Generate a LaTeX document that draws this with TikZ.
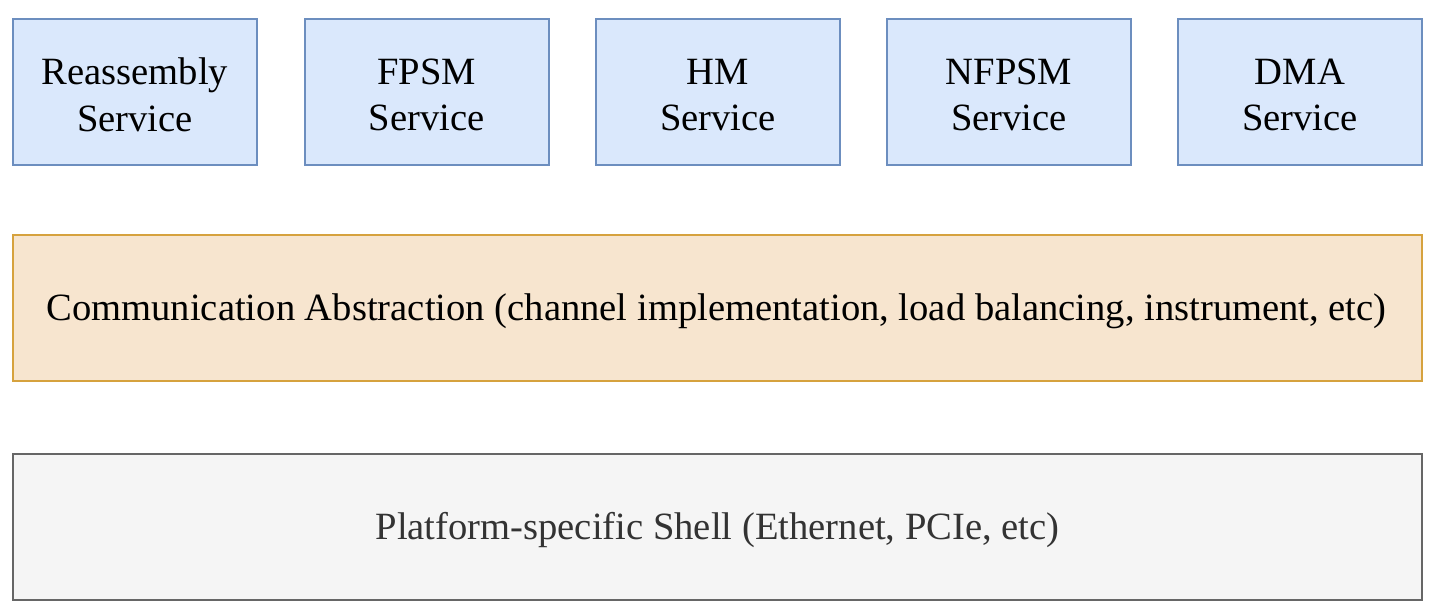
\documentclass[tikz,border=0pt]{standalone}
\usepackage{fontspec}
\setmainfont{Liberation Serif}
\definecolor{bfill}{HTML}{DAE8FC}
\definecolor{bline}{HTML}{6C8EBF}
\definecolor{ofill}{HTML}{F7E5CF}
\definecolor{oline}{HTML}{D6A23E}
\definecolor{gfill}{HTML}{F5F5F5}
\definecolor{gline}{HTML}{666666}
\definecolor{gtext}{HTML}{333333}
\tikzset{
  svc/.style={draw=bline, fill=bfill, line width=2pt, minimum width=244pt, minimum height=146pt, inner sep=0pt, anchor=north west},
  txt/.style={inner sep=0pt, align=center, font=\fontsize{38.6}{46.5}\selectfont},
  layer/.style={line width=2pt, minimum width=1409pt, minimum height=146pt, inner sep=0pt, anchor=north west},
}
\begin{document}
\begin{tikzpicture}[x=1pt,y=-1pt]
\useasboundingbox (0,0) rectangle (1436,612);
\node[svc] (reasm) at (12,18) {};
\node[svc] (fpsm) at (303.5,18) {};
\node[svc] (hm) at (595,18) {};
\node[svc] (nfpsm) at (886,18) {};
\node[svc] (dma) at (1177,18) {};
\node[txt] (reasmt) at ([yshift=-3pt]reasm.center) {Reassembly\\Service};
\node[txt] (fpsmt) at ([yshift=-3pt]fpsm.center) {FPSM\\Service};
\node[txt] (hmt) at ([yshift=-3pt]hm.center) {HM\\Service};
\node[txt] (nfpsmt) at ([yshift=-3pt]nfpsm.center) {NFPSM\\Service};
\node[txt] (dmat) at ([yshift=-3pt]dma.center) {DMA\\Service};
\node[layer, draw=oline, fill=ofill] (comm) at (12,234) {};
\node[txt] (commt) at ([yshift=-3pt, xshift=-1pt]comm.center) {Communication Abstraction (channel implementation, load balancing, instrument, etc)};
\node[layer, draw=gline, fill=gfill] (shell) at (12,453) {};
\node[txt, text=gtext] (shellt) at ([yshift=-3pt]shell.center) {Platform-specific Shell (Ethernet, PCIe, etc)};
\end{tikzpicture}
\end{document}
